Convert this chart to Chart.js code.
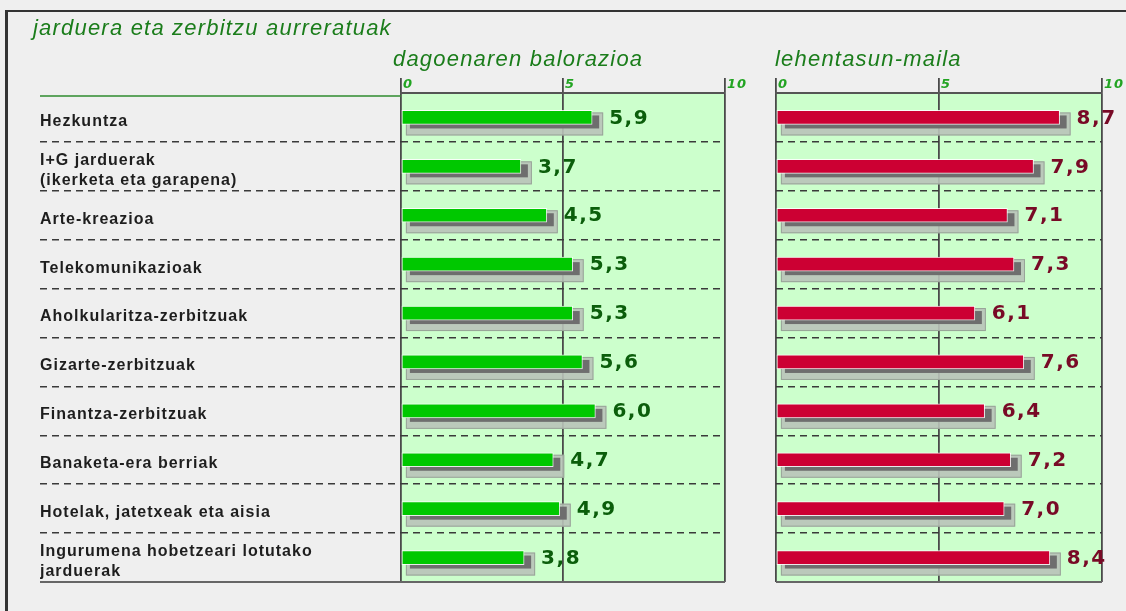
<!DOCTYPE html>
<html><head><meta charset="utf-8">
<script src="https://cdn.jsdelivr.net/npm/chart.js@4"></script>
<style>
html,body{margin:0;padding:0;width:1126px;height:611px;overflow:hidden;background:#efefef;}
#frame{position:absolute;left:5px;top:10px;width:1121px;height:601px;border-top:2px solid #333;border-left:3px solid #333;box-sizing:border-box;}
.t{position:absolute;font-family:"Liberation Sans",Arial,sans-serif;font-style:italic;font-size:22px;line-height:24px;letter-spacing:1.2px;color:#1b7d1b;white-space:nowrap;}
#wa{position:absolute;left:0;top:0;width:760px;height:611px;}
#wb{position:absolute;left:740px;top:0;width:386px;height:611px;}
</style></head>
<body>
<div id="frame"></div>
<div id="wa"><canvas id="ca"></canvas></div>
<div id="wb"><canvas id="cb"></canvas></div>
<div class="t" id="title" style="left:33px;top:16px;">jarduera eta zerbitzu aurreratuak</div>
<div class="t" id="h1" style="left:393px;top:47px;">dagoenaren balorazioa</div>
<div class="t" id="h2" style="left:775px;top:47px;">lehentasun-maila</div>
<script>
const categories = [
  'Hezkuntza',
  ['I+G jarduerak', '(ikerketa eta garapena)'],
  'Arte-kreazioa',
  'Telekomunikazioak',
  'Aholkularitza-zerbitzuak',
  'Gizarte-zerbitzuak',
  'Finantza-zerbitzuak',
  'Banaketa-era berriak',
  'Hotelak, jatetxeak eta aisia',
  ['Ingurumena hobetzeari lotutako', 'jarduerak']
];
const valuationValues = [5.9, 3.7, 4.5, 5.3, 5.3, 5.6, 6.0, 4.7, 4.9, 3.8];
const priorityValues = [8.7, 7.9, 7.1, 7.3, 6.1, 7.6, 6.4, 7.2, 7.0, 8.4];
const xTickValues = [0, 5, 10];

const fmt = v => v.toFixed(1).replace('.', ',');

const panelPlugin = {
  id: 'panel',
  beforeDraw(chart, args, opts) {
    const {ctx, chartArea: a} = chart;
    ctx.save();
    ctx.fillStyle = '#ccffcc';
    ctx.fillRect(a.left, a.top, a.right - a.left, a.bottom - a.top);
    ctx.restore();
    ctx.letterSpacing = '1px';
  },
  beforeDatasetsDraw(chart, args, opts) {
    const {ctx, chartArea: a} = chart;
    ctx.save();
    ctx.strokeStyle = '#666';
    ctx.lineWidth = 2;
    ctx.beginPath();
    ctx.moveTo(opts.labelLeft != null ? opts.labelLeft : a.left, a.bottom);
    ctx.lineTo(a.right, a.bottom);
    ctx.stroke();
    if (opts.labelLeft != null) {
      ctx.strokeStyle = '#2e8b2e';
      ctx.lineWidth = 1.5;
      ctx.beginPath();
      ctx.moveTo(opts.labelLeft, a.top + 3);
      ctx.lineTo(a.left, a.top + 3);
      ctx.stroke();
    }
    const meta = chart.getDatasetMeta(0);
    meta.data.forEach(bar => {
      const p = bar.getProps(['x', 'y', 'base', 'height'], true);
      const t = p.y - p.height / 2, b = p.y + p.height / 2;
      ctx.fillStyle = 'rgba(185,195,185,0.9)';
      ctx.strokeStyle = '#98a498';
      ctx.lineWidth = 1;
      ctx.fillRect(p.base + 4, t + 2, p.x + 11 - (p.base + 4), b + 11 - (t + 2));
      ctx.strokeRect(p.base + 4.5, t + 2.5, p.x + 11 - (p.base + 5), b + 11 - (t + 3));
      ctx.fillStyle = '#6e6e6e';
      ctx.fillRect(p.base + 8, t + 5, p.x + 7 - (p.base + 8), b + 4 - (t + 5));
    });
    ctx.restore();
  },
  afterDatasetsDraw(chart, args, opts) {
    const {ctx} = chart;
    const meta = chart.getDatasetMeta(0);
    const vals = chart.data.datasets[0].data;
    ctx.save();
    ctx.font = 'bold 20px "DejaVu Sans"';
    ctx.letterSpacing = '1.5px';
    ctx.textBaseline = 'middle';
    ctx.textAlign = 'left';
    ctx.fillStyle = opts.valueColor;
    meta.data.forEach((bar, i) => {
      const p = bar.getProps(['x', 'y'], true);
      ctx.fillText(fmt(vals[i]), p.x + 17, p.y + 1);
    });
    ctx.restore();
  }
};

function makeChart(id, values, color, withLabels, valueColor, padLeft, padRight, yWidth) {
  const n = categories.length;
  const edgeColor = c => (c.index === 0 || c.index === n) ? 'rgba(0,0,0,0)' : '#3a3a3a';
  return new Chart(document.getElementById(id), {
    type: 'bar',
    data: {
      labels: categories,
      datasets: [{
        data: values,
        backgroundColor: color,
        borderColor: 'rgba(255,255,255,0.85)',
        borderWidth: 1,
        borderSkipped: false,
        barThickness: 14
      }]
    },
    plugins: [panelPlugin],
    options: {
      indexAxis: 'y',
      responsive: true,
      maintainAspectRatio: false,
      animation: false,
      events: [],
      layout: {padding: {left: padLeft, right: padRight, top: 0, bottom: 29}},
      plugins: {
        legend: {display: false},
        tooltip: {enabled: false},
        title: {display: false},
        panel: {valueColor: valueColor, labelLeft: withLabels ? 40 : null}
      },
      scales: {
        x: {
          position: 'top',
          min: 0, max: 10,
          afterBuildTicks: s => { s.ticks = xTickValues.map(v => ({value: v})); },
          afterFit: s => { s.height = 93; },
          grid: {color: '#4a4a4a', lineWidth: 1.8, tickLength: 15, tickColor: '#4a4a4a', tickWidth: 1.8},
          border: {display: true, color: '#555', width: 2},
          ticks: {
            align: 'start', padding: -14, labelOffset: 2,
            color: '#22a422',
            font: {family: 'DejaVu Sans', weight: 'bold', style: 'italic', size: 13},
            callback: v => String(v)
          }
        },
        y: {
          type: 'category',
          offset: true,
          afterFit: s => { s.width = yWidth; },
          grid: {
            offset: true,
            color: edgeColor,
            tickColor: edgeColor,
            lineWidth: 1.6,
            tickWidth: 1.6,
            drawTicks: withLabels,
            tickLength: withLabels ? yWidth : 0,
            tickBorderDash: [7, 5]
          },
          border: {display: false, dash: [7, 5]},
          ticks: {
            display: withLabels,
            crossAlign: 'far',
            padding: 0,
            labelOffset: 4,
            color: '#1e1e1e',
            font: {family: 'Liberation Sans', weight: 'bold', size: 16, lineHeight: 1.25}
          }
        }
      }
    }
  });
}

makeChart('ca', valuationValues, '#00c800', true, '#0b5e0b', 40, 35, 361);
makeChart('cb', priorityValues, '#cc0033', false, '#780a26', 0, 24, 36);
</script>
</body></html>
